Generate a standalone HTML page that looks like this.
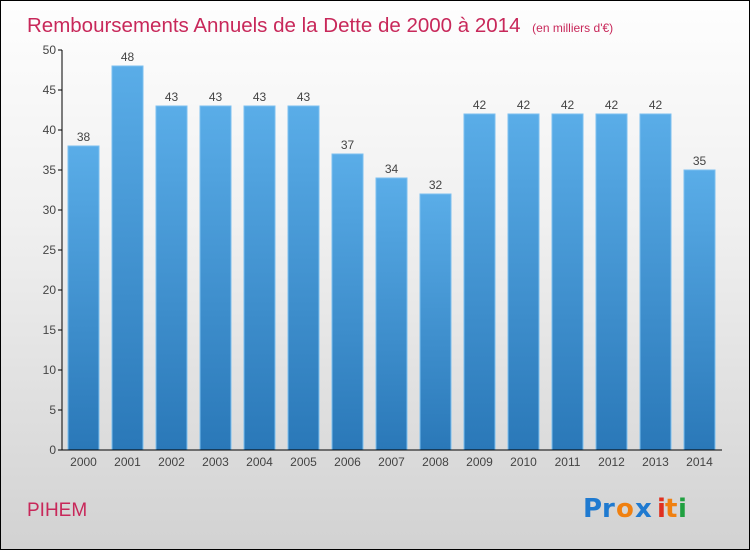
<!DOCTYPE html>
<html><head><meta charset="utf-8"><style>
body{margin:0;}
#c{width:748px;height:548px;border:1px solid #000;background:linear-gradient(#fefefe,#f0f0f0 40%,#d2d2d2);position:relative;overflow:hidden;font-family:"Liberation Sans",sans-serif;}
</style></head><body>
<div id="c">
<svg id="s" width="748" height="548">
<defs><linearGradient id="g" x1="0" y1="0" x2="0" y2="1"><stop offset="0" stop-color="#5aade8"/><stop offset="1" stop-color="#2a78b8"/></linearGradient></defs>
<text x="26" y="31" font-size="20.5" fill="#c8285a">Remboursements Annuels de la Dette de 2000 à 2014 <tspan font-size="12" dx="6">(en milliers d'€)</tspan></text>
<text x="26" y="515" font-size="19" fill="#c8285a">PIHEM</text>
<g font-size="26" font-weight="bold" font-family="'DejaVu Sans',sans-serif">
<text x="582" y="516" fill="#1f7ad0">Pr</text><text x="615" y="516" fill="#f08010">o</text><text x="634" y="516" fill="#1f7ad0">x</text><text x="656" y="516" fill="#e03020">i</text><text x="664" y="516" fill="#f08010">t</text><text x="677" y="516" fill="#20a040">i</text>
</g>
</svg>
</div>
<script>
const categories=["2000","2001","2002","2003","2004","2005","2006","2007","2008","2009","2010","2011","2012","2013","2014"];
const values=[38,48,43,43,43,43,37,34,32,42,42,42,42,42,35];
const yTicks=[0,5,10,15,20,25,30,35,40,45,50];
const s=document.getElementById('s');const NS='http://www.w3.org/2000/svg';
const x0=61,bw=44,y0=449,k=8;
const yS=v=>y0-v*k;
function el(t,a,p){const e=document.createElementNS(NS,t);for(const n in a)e.setAttribute(n,a[n]);(p||s).appendChild(e);return e;}
categories.forEach((c,i)=>{
 const v=values[i];const x=x0+i*bw+6;
 const r=el('rect',{x:x,y:yS(v),width:31,height:v*k,fill:'url(#g)',stroke:'#7cc0f0','stroke-width':1});
 
 
 const t=el('text',{x:x+15.5,y:yS(v)-5,'font-size':12,fill:'#444','text-anchor':'middle'});t.textContent=v;
 
 
 const xl=el('text',{x:x+15.5,y:y0+16,'font-size':12,fill:'#444','text-anchor':'middle'});xl.textContent=c;
 
 
});
yTicks.forEach(v=>{
 el('line',{x1:x0-4,x2:x0,y1:yS(v),y2:yS(v),stroke:'#000'});
 const t=el('text',{x:x0-6,y:yS(v)+4,'font-size':12,fill:'#444','text-anchor':'end'});t.textContent=v;
 
 
});
const ya=el('line',{x1:x0,x2:x0,y1:yS(50),y2:y0,stroke:'#000'});


const xa=el('line',{x1:x0,x2:x0+categories.length*bw,y1:y0,y2:y0,stroke:'#000'});


</script>
</body></html>
